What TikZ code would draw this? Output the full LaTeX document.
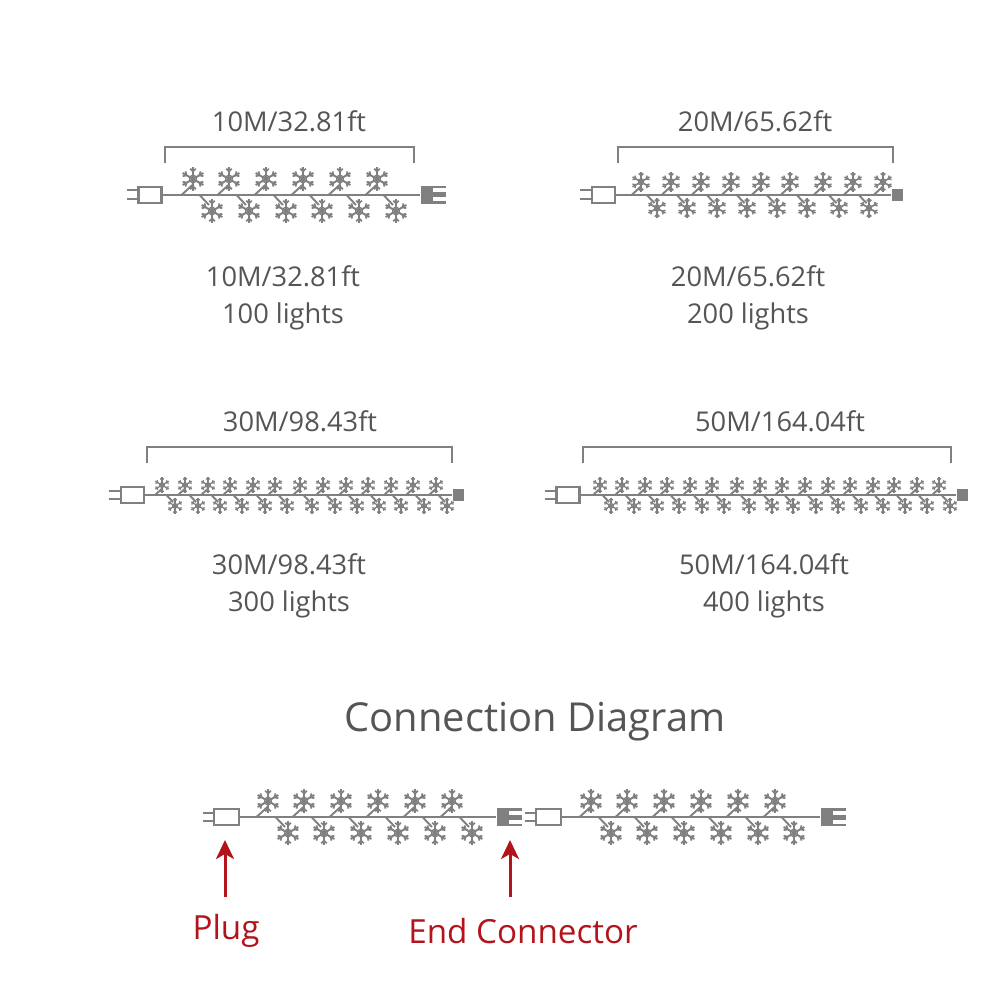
\documentclass[tikz,border=0pt]{standalone}
\usepackage{fontspec}
\setmainfont{Open Sans}
\usetikzlibrary{arrows.meta}
\definecolor{wiregray}{HTML}{808080}
\definecolor{textgray}{HTML}{555555}
\definecolor{tagred}{HTML}{B2141C}
\tikzset{
  wire/.style={draw=wiregray,line width=0.7pt},
  plugbox/.style={draw=wiregray,fill=white,line width=0.6pt,minimum width=0.23cm,minimum height=0.155cm,inner sep=0pt},
  endblock/.style={fill=wiregray,minimum width=0.11cm,minimum height=0.12cm,inner sep=0pt},
  endblockwide/.style={fill=wiregray,minimum width=0.25cm,minimum height=0.18cm,inner sep=0pt},
  sizelabel/.style={text=textgray,font=\fontsize{7.75}{10.5}\selectfont,inner sep=0pt,align=center},
  titlelabel/.style={text=textgray,font=\fontsize{11.35}{13}\selectfont,inner sep=0pt},
  taglabel/.style={text=tagred,font=\fontsize{9.45}{11}\selectfont,inner sep=0pt},
  tagarrow/.style={draw=tagred,line width=0.85pt,-{Stealth[length=0.19cm,width=0.18cm,inset=0.05cm]}},
  bracket/.style={draw=wiregray,line width=0.6pt},
  flake/.pic={
    \foreach \a in {30,90,150} {
      \draw[wire,line width=0.55pt*\flakesize] (\a:-0.12*\flakesize) -- (\a:0.12*\flakesize);
    }
    \foreach \a in {30,90,...,330} {
      \draw[wire,line width=0.5pt*\flakesize] ([shift={(\a:0.075*\flakesize)}]\a+45:0.04*\flakesize) -- (\a:0.075*\flakesize)
        -- ([shift={(\a:0.075*\flakesize)}]\a-45:0.04*\flakesize);
      \draw[wire,line width=0.4pt*\flakesize] (\a:0.04*\flakesize) -- (\a+60:0.04*\flakesize);
    }
  }
}
% one string of lights: #1 wire y, #2 flake size, #3 top flakes, #4 bottom flakes
\newcommand{\lightrow}[4]{
  \def\flakesize{#2}
  \foreach \x in {#3} {
    \draw[wire,line width=0.55pt] (\x-0.115*#2,#1) -- (\x,#1-0.105*#2);
    \pic at (\x,#1-0.16*#2) {flake};
  }
  \foreach \x in {#4} {
    \draw[wire,line width=0.55pt] (\x-0.125*#2,#1) -- (\x-0.03*#2,#1+0.10*#2);
    \pic at (\x,#1+0.16*#2) {flake};
  }
}
\begin{document}
\begin{tikzpicture}[x=1cm,y=-1cm]
  \useasboundingbox (0,0) rectangle (10,10);

  % 10M string
  \draw[bracket] (1.65,1.63) -- (1.65,1.47) -- (4.14,1.47) -- (4.14,1.63);
  \draw[wire] (1.27,1.90) -- (1.38,1.90);
  \draw[wire] (1.27,1.99) -- (1.38,1.99);
  \node[plugbox] (plugten) at (1.50,1.95) {};
  \node[endblockwide] (endten) at (4.335,1.95) {};
  \draw[wire] (plugten) -- (endten);
  \fill[white] (4.33,1.885) rectangle (4.47,1.925);
  \fill[white] (4.33,1.975) rectangle (4.47,2.015);
  \lightrow{1.95}{1}{1.93,2.29,2.66,3.03,3.40,3.77}{2.12,2.49,2.86,3.22,3.59,3.96}
  \node[sizelabel] (spanten) at (2.89,1.21) {10M/32.81ft};
  \node[sizelabel] (infoten) at (2.83,2.98) {10M/32.81ft\\100 lights};

  % 20M string
  \draw[bracket] (6.18,1.63) -- (6.18,1.47) -- (8.93,1.47) -- (8.93,1.63);
  \draw[wire] (5.80,1.90) -- (5.92,1.90);
  \draw[wire] (5.80,1.99) -- (5.92,1.99);
  \node[plugbox] (plugtwenty) at (6.035,1.95) {};
  \node[endblock] (endtwenty) at (8.975,1.95) {};
  \draw[wire] (plugtwenty) -- (endtwenty);
  \lightrow{1.95}{0.82}{6.41,6.71,7.01,7.31,7.61,7.90,8.23,8.53,8.83}{6.57,6.87,7.17,7.47,7.77,8.07,8.39,8.69}
  \node[sizelabel] (spantwenty) at (7.55,1.21) {20M/65.62ft};
  \node[sizelabel] (infotwenty) at (7.48,2.98) {20M/65.62ft\\200 lights};

  % 30M string
  \draw[bracket] (1.47,4.63) -- (1.47,4.47) -- (4.52,4.47) -- (4.52,4.63);
  \draw[wire] (1.09,4.91) -- (1.21,4.91);
  \draw[wire] (1.09,4.99) -- (1.21,4.99);
  \node[plugbox] (plugthirty) at (1.325,4.95) {};
  \node[endblock] (endthirty) at (4.585,4.95) {};
  \draw[wire] (plugthirty) -- (endthirty);
  \lightrow{4.955}{0.65}{1.62,1.85,2.08,2.30,2.53,2.75,3.00,3.23,3.46,3.68,3.91,4.13,4.36}{1.75,1.98,2.20,2.42,2.65,2.87,3.12,3.35,3.57,3.79,4.01,4.24,4.47}
  \node[sizelabel] (spanthirty) at (3.00,4.21) {30M/98.43ft};
  \node[sizelabel] (infothirty) at (2.89,5.86) {30M/98.43ft\\300 lights};

  % 50M string
  \draw[bracket] (5.83,4.63) -- (5.83,4.47) -- (9.51,4.47) -- (9.51,4.63);
  \draw[wire] (5.45,4.91) -- (5.56,4.91);
  \draw[wire] (5.45,4.99) -- (5.56,4.99);
  \node[plugbox] (plugfifty) at (5.68,4.95) {};
  \node[endblock] (endfifty) at (9.625,4.95) {};
  \draw[wire] (plugfifty) -- (endfifty);
  \lightrow{4.955}{0.65}{6.00,6.22,6.45,6.67,6.90,7.12,7.37,7.60,7.82,8.05,8.28,8.50,8.73,8.94,9.17,9.39}{6.11,6.34,6.57,6.79,7.02,7.24,7.49,7.72,7.93,8.16,8.38,8.61,8.83,9.05,9.27,9.50}
  \node[sizelabel] (spanfifty) at (7.80,4.21) {50M/164.04ft};
  \node[sizelabel] (infofifty) at (7.64,5.86) {50M/164.04ft\\400 lights};

  % connection diagram
  \node[titlelabel] (title) at (5.35,7.22) {Connection Diagram};
  \draw[wire] (2.03,8.13) -- (2.14,8.13);
  \draw[wire] (2.03,8.21) -- (2.14,8.21);
  \node[plugbox,minimum width=0.245cm,minimum height=0.16cm] (plugfirst) at (2.265,8.17) {};
  \node[endblockwide] (endfirst) at (5.095,8.17) {};
  \draw[wire] (plugfirst) -- (endfirst);
  \fill[white] (5.09,8.105) rectangle (5.23,8.145);
  \fill[white] (5.09,8.195) rectangle (5.23,8.235);
  \lightrow{8.17}{1}{2.68,3.04,3.41,3.78,4.15,4.52}{2.88,3.24,3.61,3.98,4.35,4.72}

  \draw[wire] (5.25,8.13) -- (5.36,8.13);
  \draw[wire] (5.25,8.21) -- (5.36,8.21);
  \node[plugbox,minimum width=0.245cm,minimum height=0.16cm] (plugsecond) at (5.485,8.17) {};
  \node[endblockwide] (endsecond) at (8.335,8.17) {};
  \draw[wire] (plugsecond) -- (endsecond);
  \fill[white] (8.33,8.105) rectangle (8.47,8.145);
  \fill[white] (8.33,8.195) rectangle (8.47,8.235);
  \lightrow{8.17}{1}{5.91,6.27,6.64,7.01,7.38,7.75}{6.11,6.47,6.84,7.21,7.58,7.94}

  % labels and arrows
  \node[taglabel] (plugtag) at (2.26,9.31) {Plug};
  \node[taglabel] (endtag) at (5.23,9.31) {End Connector};
  \coordinate (plugtail) at (2.25,8.97);
  \coordinate (plughead) at (2.25,8.40);
  \coordinate (endtail) at (5.10,8.97);
  \coordinate (endhead) at (5.10,8.40);
  \draw[tagarrow] (plugtail) -- (plughead);
  \draw[tagarrow] (endtail) -- (endhead);
\end{tikzpicture}
\end{document}
